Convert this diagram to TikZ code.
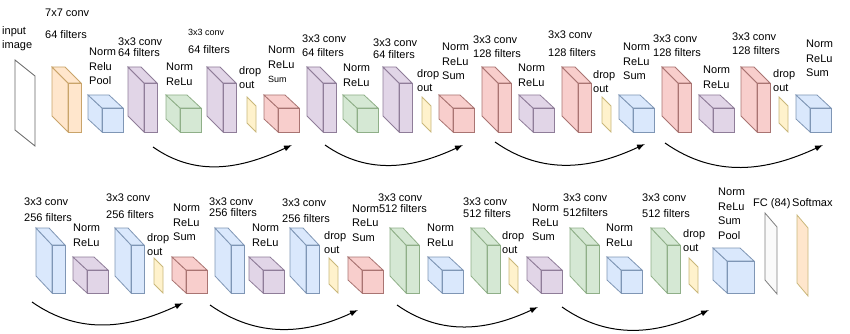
\documentclass[tikz,border=0pt]{standalone}
\usepackage{fontspec}
\setmainfont{Liberation Sans}
\usepackage{xcolor}
\usepackage{tikz}
\usetikzlibrary{arrows.meta}

\definecolor{orF}{HTML}{FFE6CC}\definecolor{orD}{HTML}{C9A46A}
\definecolor{blF}{HTML}{DAE8FC}\definecolor{blD}{HTML}{7F96B5}
\definecolor{grF}{HTML}{D5E8D4}\definecolor{grD}{HTML}{8FAF88}
\definecolor{puF}{HTML}{E1D5E7}\definecolor{puD}{HTML}{8F7D99}
\definecolor{reF}{HTML}{F8CECC}\definecolor{reD}{HTML}{A97472}
\definecolor{yeF}{HTML}{FFF2CC}\definecolor{yeD}{HTML}{C9B77A}

\tikzset{
    or/.style={fill=orF, draw=orD},
    bl/.style={fill=blF, draw=blD},
    gr/.style={fill=grF, draw=grD},
    pu/.style={fill=puF, draw=puD},
    re/.style={fill=reF, draw=reD},
    ye/.style={fill=yeF, draw=yeD},
    lbl/.style={anchor=north west, inner sep=0pt, yshift=4pt, align=left,
        font=\fontsize{11}{14.5}\selectfont},
    skip/.style={->, line width=1pt, black},
}

% front face at (#1,#2), size #3 x #4, depth #5/#6, style #7
\newcommand{\cnnbox}[7]{%
    \draw[#7, line width=0.8pt] (#1,#2) -- ++(-#5,-#6) -- ++(0,#4) -- ++(#5,#6) -- cycle;
    \draw[#7, line width=0.8pt] (#1,#2) -- ++(-#5,-#6) -- ++(#3,0) -- ++(#5,#6) -- cycle;
    \draw[#7, line width=0.8pt] (#1,#2) rectangle ++(#3,#4);
}
% flat plane: corner (#1,#2), width #3, skew #4, height #5, style #6
\newcommand{\cnnplane}[6]{%
    \draw[#6, line width=0.8pt] (#1,#2) -- ++(#3,#4) -- ++(0,#5) -- ++(-#3,-#4) -- cycle;
}

\begin{document}
\begin{tikzpicture}[x=1pt, y=-1pt, >={Latex[length=8pt, width=6pt]}]
    \useasboundingbox (0,0) rectangle (850,334);

    % 1. Ảnh vào, FC, Softmax
    \cnnplane{15}{60}{20}{16}{70}{fill=white, draw=gray!80!black}
    \cnnplane{765}{213}{12}{14}{67}{fill=gray!4, draw=gray}
    \cnnplane{797}{215}{11}{13}{68}{fill=orF, draw=yeD}

    % 2. Các khối conv cao
    \foreach \x/\c in {68/or,144/pu,223/pu,323/pu,399/pu,498/re,578/re,678/re,757/re} {
        \cnnbox{\x}{83}{13}{49}{16}{16}{\c}
    }
    \foreach \x/\c in {52/bl,131/bl,231/bl,306/bl,406/gr,487/gr,586/gr,667/gr} {
        \cnnbox{\x}{245}{13}{48}{16}{17}{\c}
    }

    % 3. Các khối Norm/ReLu
    \foreach \x/\c in {102/bl,180/gr,278/re,357/gr,453/re,533/pu,633/bl,713/pu,810/bl} {
        \cnnbox{\x}{108}{21}{24}{14}{13}{\c}
    }
    \foreach \x/\c in {87/pu,186/re,263/pu,362/re,442/bl,541/pu,621/bl} {
        \cnnbox{\x}{270}{21}{23}{14}{13}{\c}
    }
    \cnnbox{727}{261}{27}{32}{14}{13}{bl}

    % 4. Dropout
    \foreach \x in {247,422,602,779} {
        \cnnplane{\x}{97}{9}{9}{26}{ye}
    }
    \foreach \x in {154,329,509,689} {
        \cnnplane{\x}{258}{9}{9}{26}{ye}
    }

    % 5. Nhãn
    \node[lbl] (inp) at (2,30) {input\\image};
    \node[lbl] (c0a) at (45,13) {7x7 conv};
    \node[lbl] (c0b) at (45,34) {64 filters};
    \node[lbl, font=\fontsize{9}{11}\selectfont] (c3a) at (188,33) {3x3 conv};
    \node[lbl] (c3b) at (188,49) {64 filters};
    \node[lbl] (c9a) at (378,198) {3x3 conv};
    \foreach \x/\y/\g/\t [count=\i] in {118/42/10/64 filters, 302/39/13/64 filters,
        373/43/11/64 filters, 473/40/13/128 filters, 548/35/17/128 filters,
        653/39/13/128 filters, 732/37/13/128 filters, 24/202/15/256 filters,
        106/198/16/256 filters, 209/202/10/256 filters, 282/203/15/256 filters,
        463/202/11/512 filters, 563/198/14/512filters, 642/198/15/512 filters} {
        \node[lbl] (conv\i) at (\x,\y) {3x3 conv};
        \node[lbl] (filt\i) at (\x,\y+\g) {\t};
    }
    \foreach \x/\y/\t [count=\i] in {89/52/{Norm\\Relu\\Pool}, 166/67/{Norm\\ReLu},
        268/50/{Norm\\ReLu\\{\fontsize{9}{11}\selectfont Sum}}, 343/68/{Norm\\ReLu},
        442/47/{Norm\\ReLu\\Sum}, 518/68/{Norm\\ReLu}, 623/47/{Norm\\ReLu\\Sum},
        703/70/{Norm\\ReLu}, 806/44/{Norm\\ReLu\\Sum}, 73/228/{Norm\\ReLu},
        173/208/{Norm\\ReLu\\Sum}, 252/228/{Norm\\ReLu},
        352/208/{Norm512 filters\\ReLu\\Sum}, 427/228/{Norm\\ReLu},
        532/208/{Norm\\ReLu\\Sum}, 606/228/{Norm\\ReLu},
        718/192/{Norm\\ReLu\\Sum\\Pool}} {
        \node[lbl] (norm\i) at (\x,\y) {\t};
    }
    \foreach \x/\y [count=\i] in {239/70,417/73,593/74,773/73,147/237,324/235,502/235,683/233} {
        \node[lbl] (drop\i) at (\x,\y) {drop\\out};
    }
    \node[lbl] (fc) at (753,202) {FC (84)};
    \node[lbl] (soft) at (792,202) {Softmax};

    % 6. Các mũi tên tắt
    \foreach \i/\a/\b/\c/\d in {1/153/147/292/145, 2/325/145/463/145, 3/495/142/645/144,
        4/665/143/823/145, 5/32/302/183/303, 6/210/305/358/310, 7/397/305/538/307,
        8/562/307/709/310} {
        \coordinate (s\i) at (\a,\b);
        \coordinate (e\i) at (\c,\d);
        \draw[skip] (s\i) to[out=-35, in=-155] (e\i);
    }
\end{tikzpicture}
\end{document}
